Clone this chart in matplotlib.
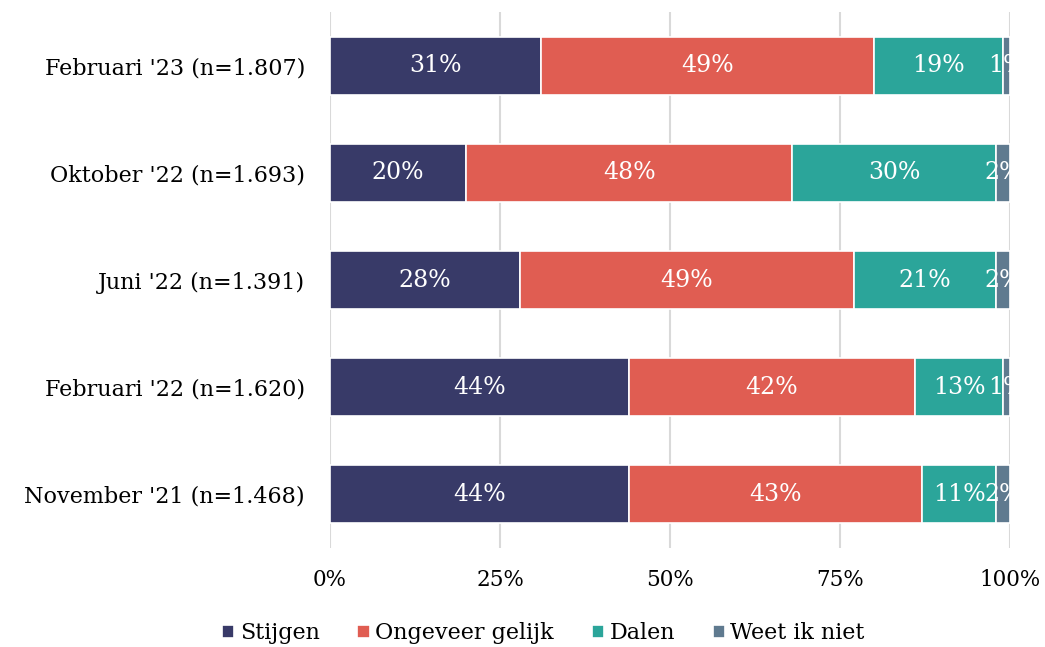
import matplotlib
matplotlib.use("Agg")
import matplotlib.pyplot as plt
import numpy as np
from matplotlib.ticker import PercentFormatter

periods = [
    "Februari '23 (n=1.807)",
    "Oktober '22 (n=1.693)",
    "Juni '22 (n=1.391)",
    "Februari '22 (n=1.620)",
    "November '21 (n=1.468)",
]
stijgen = [31, 20, 28, 44, 44]
ongeveer_gelijk = [49, 48, 49, 42, 43]
dalen = [19, 30, 21, 13, 11]
weet_ik_niet = [1, 2, 2, 1, 2]

series = [
    ("Stijgen", stijgen, "#383A68"),
    ("Ongeveer gelijk", ongeveer_gelijk, "#E05D52"),
    ("Dalen", dalen, "#2BA59A"),
    ("Weet ik niet", weet_ik_niet, "#5F7A8F"),
]

plt.rcParams["font.family"] = ["DejaVu Serif"]

fig = plt.figure(figsize=(10.45, 6.47), dpi=100)
ax = fig.add_axes([0.3158, 0.153, 0.6507, 0.8284])

y = np.arange(len(periods))
left = np.zeros(len(periods))
for name, values, color in series:
    vals = np.array(values, dtype=float)
    ax.barh(y, vals, left=left, height=0.54, color=color, edgecolor="white",
            linewidth=1.2, label=name, zorder=2)
    for yi, (l, v) in enumerate(zip(left, vals)):
        ax.text(l + v / 2, yi, f"{int(v)}%", ha="center", va="center",
                color="white", fontsize=17, zorder=3, clip_on=True)
    left += vals

ax.set_xlim(0, 100)
ax.set_ylim(len(periods) - 0.5, -0.5)
ax.set_yticks(y)
ax.set_yticklabels(periods, fontsize=16)
ax.set_xticks([0, 25, 50, 75, 100])
ax.xaxis.set_major_formatter(PercentFormatter(decimals=0))
ax.tick_params(axis="x", labelsize=15.5, length=0, pad=15)
ax.tick_params(axis="y", length=0, pad=18)
ax.grid(axis="x", color="#D9D9D9", linewidth=1.5, zorder=0)
for spine in ax.spines.values():
    spine.set_visible(False)

ax.legend(loc="lower center", bbox_to_anchor=(0.52, -0.027), bbox_transform=fig.transFigure,
          ncol=4, frameon=False, fontsize=16, handlelength=0.55, handleheight=0.55,
          handletextpad=0.25, columnspacing=1.7)

fig.savefig("out.png", dpi=100)
